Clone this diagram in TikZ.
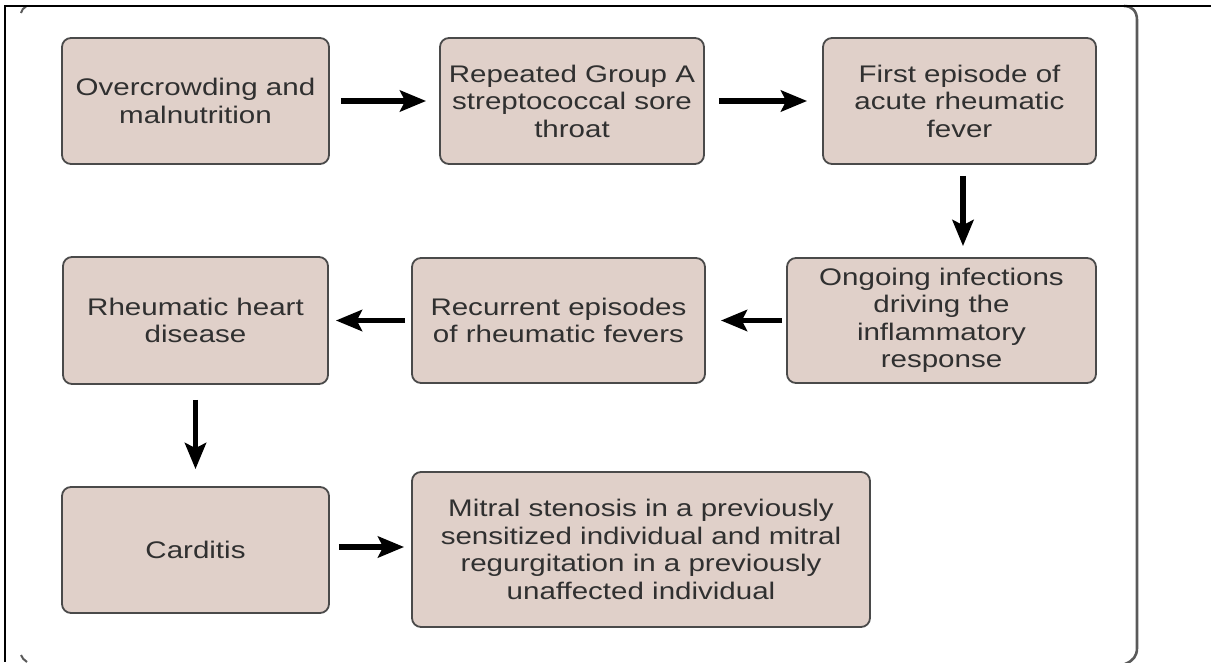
\documentclass[tikz,border=0pt]{standalone}
\usepackage{fontspec}
\setmainfont{Liberation Sans}[FakeStretch=1.23]
\usetikzlibrary{arrows.meta}
\definecolor{boxfill}{HTML}{E0D0C9}
\definecolor{boxline}{HTML}{4A4A4A}
\definecolor{txt}{HTML}{303030}
\definecolor{framegray}{HTML}{5A5A5A}
\tikzset{
  stepbox/.style={draw=boxline, line width=1.8pt, fill=boxfill, rounded corners=9pt,
    align=center, text=txt, inner sep=0pt,
    font=\fontsize{24pt}{27.5pt}\selectfont},
  arr/.style={line width=5.5pt, -{Stealth[length=26pt,width=21pt,inset=5pt]}}
}
\begin{document}
\begin{tikzpicture}[x=1pt,y=-1pt]
\useasboundingbox (0,0) rectangle (1211,662);
% frame
\draw[framegray, line width=2.6pt] (1124,6) .. controls (1132,6) and (1137,11) .. (1137,20) -- (1137,648) .. controls (1137,656) and (1133,661) .. (1125,664);
\draw[framegray, line width=2pt] (21,13) .. controls (22,10) and (23,8) .. (26,6.5);
\draw[framegray, line width=2pt] (21,655) .. controls (22,658) and (24,660) .. (27,662);
\draw[black, line width=2.4pt] (4,6) -- (1211,6);
\draw[black, line width=2.4pt] (5,5) -- (5,662);
% boxes
\node[stepbox, minimum width=267pt, minimum height=126pt] (b1) at (195.5,101) {Overcrowding and\\malnutrition};
\node[stepbox, minimum width=264pt, minimum height=126pt] (b2) at (572,101) {Repeated Group A\\streptococcal sore\\throat};
\node[stepbox, minimum width=273pt, minimum height=126pt] (b3) at (959.5,101) {First episode of\\acute rheumatic\\fever};
\node[stepbox, minimum width=309pt, minimum height=125pt] (b4) at (941.5,320.5) {Ongoing infections\\driving the\\inflammatory\\response};
\node[stepbox, minimum width=293pt, minimum height=125pt] (b5) at (558.5,320.5) {Recurrent episodes\\of rheumatic fevers};
\node[stepbox, minimum width=265pt, minimum height=127pt] (b6) at (195.5,320.5) {Rheumatic heart\\disease};
\node[stepbox, minimum width=267pt, minimum height=126pt] (b7) at (195.5,550) {Carditis};
\node[stepbox, minimum width=458pt, minimum height=155pt] (b8) at (641,549.5) {Mitral stenosis in a previously\\sensitized individual and mitral\\regurgitation in a previously\\unaffected individual};
% arrows
\draw[arr, shorten <=11pt, shorten >=13pt] (b1.east) -- (b2.west);
\draw[arr, shorten <=14pt, shorten >=15pt] (b2.east) -- (b3.west);
\draw[arr, shorten <=11pt, shorten >=11pt] ([xshift=3.5pt]b3.south) -- ([xshift=3.5pt]b3.south |- b4.north);
\draw[arr, shorten <=4pt, shorten >=15pt] (b4.west) -- (b5.east);
\draw[arr, shorten <=6pt, shorten >=7pt] (b5.west) -- (b6.east);
\draw[arr, shorten <=15pt, shorten >=17pt] (b6.south) -- (b7.north);
\draw[arr, shorten <=9pt, shorten >=7pt] ([yshift=3pt]b7.east) -- ([yshift=3pt]b7.east -| b8.west);
\end{tikzpicture}
\end{document}
